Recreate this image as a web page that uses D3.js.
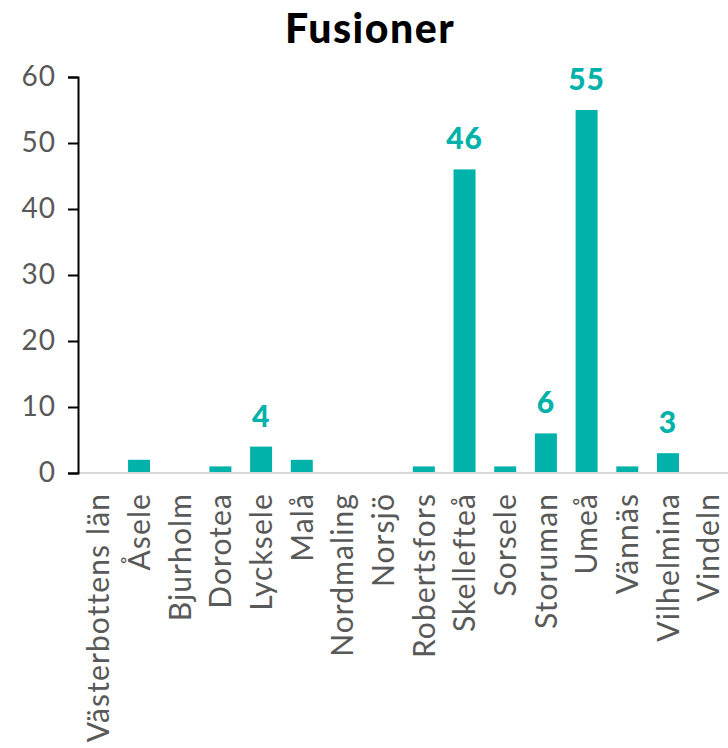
<!DOCTYPE html>
<meta charset="utf-8">
<style>
  body { margin: 0; background: #fff; }
  text { font-family: Lato, "Open Sans", sans-serif; }
</style>
<body>
<svg width="728" height="748"></svg>
<script src="https://d3js.org/d3.v7.min.js"></script>
<script>
// data
var kommuner = ["Västerbottens län", "Åsele", "Bjurholm", "Dorotea", "Lycksele", "Malå",
  "Nordmaling", "Norsjö", "Robertsfors", "Skellefteå", "Sorsele", "Storuman",
  "Umeå", "Vännäs", "Vilhelmina", "Vindeln"];
var fusioner = [0, 2, 0, 1, 4, 2, 0, 0, 1, 46, 1, 6, 55, 1, 3, 0];
var visaEtikett = ["Lycksele", "Skellefteå", "Storuman", "Umeå", "Vilhelmina"];
var yTicks = [0, 10, 20, 30, 40, 50, 60];

var teal = "#00b2a9";
var svg = d3.select("svg");

var x = d3.scaleBand()
    .domain(kommuner)
    .range([78, 729])
    .paddingInner(0.46)
    .paddingOuter(0.23);

var y = d3.scaleLinear()
    .domain([0, 60])
    .range([473, 77]);

// title
svg.append("text")
    .attr("x", 370)
    .attr("y", 43)
    .attr("text-anchor", "middle")
    .style("font-size", "41px")
    .style("font-weight", 900)
    .style("letter-spacing", "1.5px")
    .text("Fusioner");

// bars
svg.selectAll(".bar")
    .data(kommuner)
  .enter().append("rect")
    .attr("class", "bar")
    .attr("x", function(d) { return x(d); })
    .attr("width", x.bandwidth())
    .attr("y", function(d, i) { return y(fusioner[i]); })
    .attr("height", function(d, i) { return y(0) - y(fusioner[i]); })
    .attr("fill", teal);

// baseline
svg.append("line")
    .attr("x1", 78).attr("x2", 728)
    .attr("y1", y(0)).attr("y2", y(0))
    .attr("stroke", "#d9d9d9")
    .attr("stroke-width", 2);

// y axis
var yAxis = svg.append("g")
    .attr("transform", "translate(78,0)")
    .call(d3.axisLeft(y).tickValues(yTicks).tickSizeOuter(0).tickSize(10).tickPadding(12));
yAxis.select(".domain").attr("stroke", "#000").attr("stroke-width", 2);
yAxis.selectAll(".tick line").attr("stroke", "#000").attr("stroke-width", 2);
yAxis.selectAll(".tick text")
    .attr("fill", "#595959")
    .style("font-size", "28px")
    .style("letter-spacing", "1px")
    .style("font-family", "Lato, sans-serif");

// category labels
svg.selectAll(".cat")
    .data(kommuner)
  .enter().append("text")
    .attr("class", "cat")
    .attr("transform", function(d) {
      return "translate(" + (x(d) + x.bandwidth() / 2) + ",493) rotate(-90)";
    })
    .attr("dy", "0.36em")
    .attr("text-anchor", "end")
    .attr("fill", "#595959")
    .style("font-size", "30px")
    .style("letter-spacing", "1.1px")
    .text(function(d) { return d; });

// value labels
svg.selectAll(".val")
    .data(kommuner.filter(function(d) { return visaEtikett.indexOf(d) >= 0; }))
  .enter().append("text")
    .attr("class", "val")
    .attr("x", function(d) { return x(d) + x.bandwidth() / 2; })
    .attr("y", function(d) { return y(fusioner[kommuner.indexOf(d)]) - 20; })
    .attr("text-anchor", "middle")
    .attr("fill", teal)
    .style("font-size", "30px")
    .style("font-weight", 900)
    .style("letter-spacing", "1px")
    .text(function(d) { return fusioner[kommuner.indexOf(d)]; });
</script>
</body>
